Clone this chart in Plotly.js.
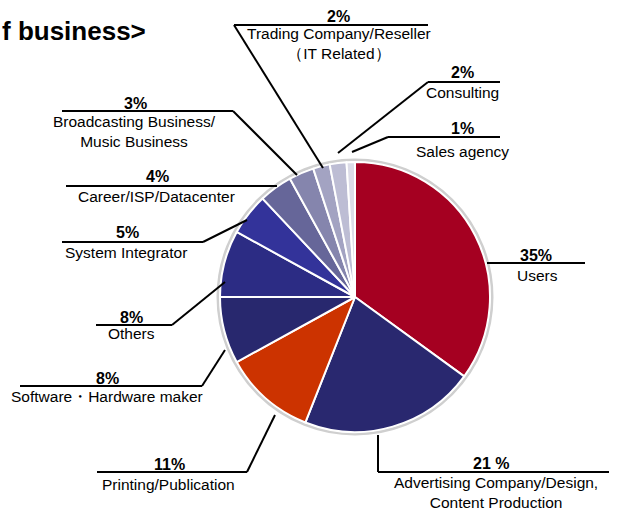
<!DOCTYPE html>
<html>
<head>
<meta charset="utf-8">
<script src="https://cdn.plot.ly/plotly-3.0.1.min.js"></script>
<style>html,body{margin:0;padding:0;background:#fff;}#chart{width:618px;height:511px;}</style>
</head>
<body>
<div id="chart"></div>
<script>
// ---- data ----
const categories = [
  "Users",
  "Advertising Company/Design,<br>Content Production",
  "Printing/Publication",
  "Software・Hardware maker",
  "Others",
  "System Integrator",
  "Career/ISP/Datacenter",
  "Broadcasting Business/<br>Music Business",
  "Trading Company/Reseller<br>（IT Related）",
  "Consulting",
  "Sales agency"
];
const shares = [35, 21, 11, 8, 8, 5, 4, 3, 2, 2, 1];
const percentLabels = ["35%", "21 %", "11%", "8%", "8%", "5%", "4%", "3%", "2%", "2%", "1%"];
const titleText = "f business>";

// ---- styling / layout ----
const colors = ["#A50021", "#29286F", "#CC3300", "#28286E", "#2C2C84", "#33339A",
                "#666699", "#8585AD", "#A3A3C2", "#BDBDD4", "#DCDCE8"];
const W = 618, H = 511;
const px = x => x / W;
const py = y => 1 - y / H;
const cx = 355, cy = 297, R = 135;

// label layout: [pctX, pctY, nameX, nameY, underline x0, x1, y, leader end x, y, leader starts at left end?]
const labelPos = [
  [536, 255, 537, 275, 487, 585, 263, null, null, false],
  [491, 463, 496, 492, 378, 609, 472, 378, 435, true],
  [169, 464, 168, 484, 97, 247, 472, 275, 415, false],
  [107, 378, 107, 396, 20, 202, 386, 225, 350, false],
  [131, 317, 131, 333, 96, 172, 325, 225, 282, false],
  [127, 233, 126, 252, 62, 203, 242, 247, 220, false],
  [157, 177, 156, 197, 66, 277, 186, null, null, false],
  [135, 103, 134, 131, 62, 233, 111, 297, 175, false],
  [338, 16, 339, 43, 234, 428, 25, 323, 168, true],
  [462, 73, 462, 93, 428, 500, 82, 338, 153, true],
  [462, 128, 462, 151, 388, 500, 137, 352, 152, true]
];

const font = "Liberation Sans, Arial, Helvetica, sans-serif";
const annotations = [];
const shapes = [];

// pie halo
shapes.push({type: "circle", xref: "paper", yref: "paper", layer: "below",
  x0: px(cx - R - 2), x1: px(cx + R + 2), y0: py(cy + R + 2), y1: py(cy - R - 2),
  line: {color: "#cfcfcf", width: 3}, fillcolor: "rgba(0,0,0,0)"});

categories.forEach((cat, i) => {
  const p = labelPos[i];
  annotations.push({xref: "paper", yref: "paper", x: px(p[0]), y: py(p[1]),
    xanchor: "center", yanchor: "middle", showarrow: false,
    text: "<b>" + percentLabels[i] + "</b>", font: {family: font, size: 16, color: "#000"}});
  annotations.push({xref: "paper", yref: "paper", x: px(p[2]), y: py(p[3]),
    xanchor: "center", yanchor: "middle", showarrow: false,
    text: cat, font: {family: font, size: 15.5, color: "#000"}});
  shapes.push({type: "line", xref: "paper", yref: "paper",
    x0: px(p[4]), x1: px(p[5]), y0: py(p[6]), y1: py(p[6]),
    line: {color: "#000", width: 2}});
  if (p[7] !== null) {
    const startX = p[9] ? p[4] : p[5];
    shapes.push({type: "line", xref: "paper", yref: "paper",
      x0: px(startX), x1: px(p[7]), y0: py(p[6]), y1: py(p[8]),
      line: {color: "#000", width: 2}});
  }
});

annotations.push({xref: "paper", yref: "paper", x: px(148), y: py(31),
  xanchor: "right", yanchor: "middle", showarrow: false,
  text: "<b>" + titleText + "</b>", font: {family: font, size: 26, color: "#000"}});

const trace = {
  type: "pie",
  labels: categories,
  values: shares,
  sort: false,
  direction: "clockwise",
  rotation: 0,
  textinfo: "none",
  hoverinfo: "label+percent",
  marker: {colors: colors, line: {color: "#ffffff", width: 2}},
  domain: {x: [px(cx - R), px(cx + R)], y: [py(cy + R), py(cy - R)]},
  showlegend: false
};

Plotly.newPlot("chart", [trace], {
  width: W, height: H,
  margin: {l: 0, r: 0, t: 0, b: 0},
  paper_bgcolor: "#fff", plot_bgcolor: "#fff",
  showlegend: false,
  annotations: annotations,
  shapes: shapes
}, {displayModeBar: false, staticPlot: true});
</script>
</body>
</html>
